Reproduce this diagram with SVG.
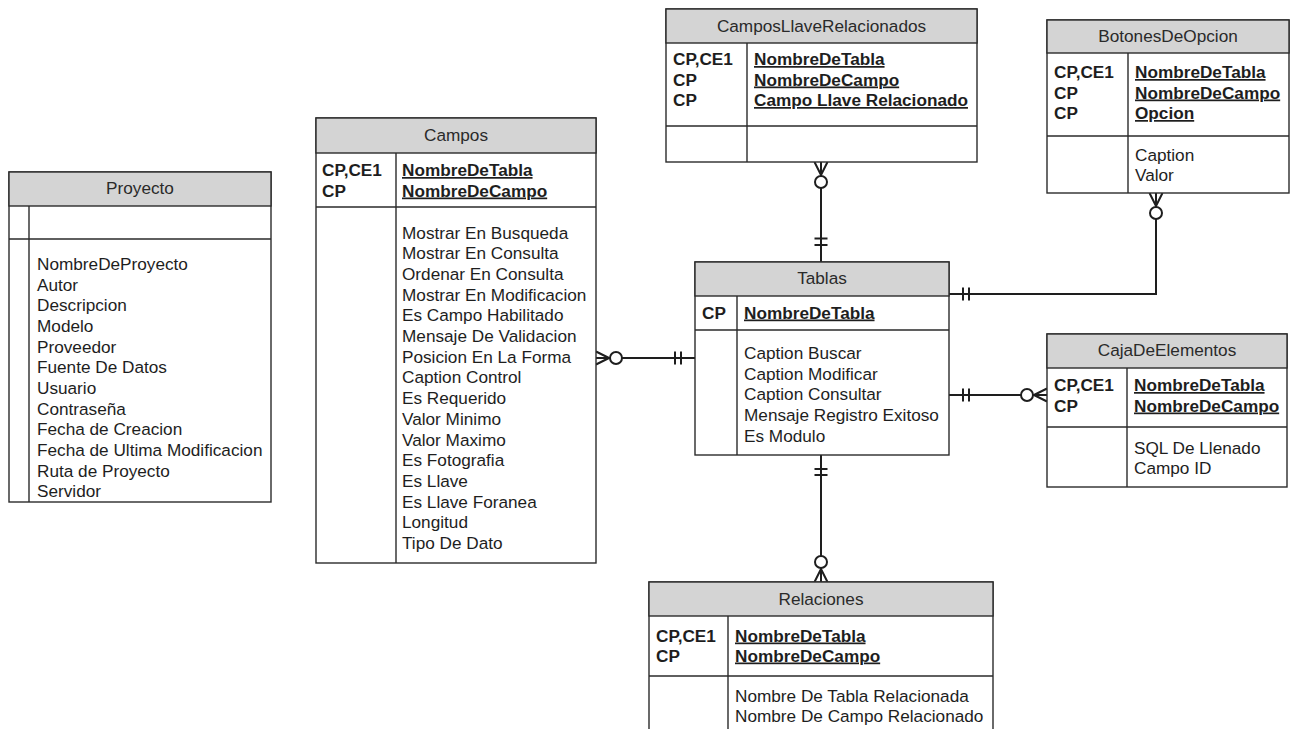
<svg xmlns="http://www.w3.org/2000/svg" width="1292" height="729" viewBox="0 0 1292 729">
  <style>
    .box { fill: #ffffff; stroke: #2b2b2b; stroke-width: 1.4; }
    .hdr { fill: #d4d4d4; stroke: #2b2b2b; stroke-width: 1.4; }
    .sep { stroke: #2b2b2b; stroke-width: 1.4; fill: none; }
    text { font-family: "Liberation Sans", Arial, sans-serif; font-size: 17.2px; fill: #1e1e1e; }
    .title { text-anchor: middle; fill: #2a2a2a; }
    .key { font-weight: bold; }
    .pk { font-weight: bold; text-decoration: underline; }
    .link { fill: none; stroke: #1e1e1e; stroke-width: 2; }
    .mk { fill: none; stroke: #1e1e1e; stroke-width: 2; }
  </style>
  <defs>
    <!-- exactly one: two bars near the parent table -->
    <marker id="one" markerUnits="userSpaceOnUse" viewBox="-30 -10 40 20" refX="0" refY="0" markerWidth="40" markerHeight="20" orient="auto-start-reverse" overflow="visible">
      <path class="mk" d="M-14,-6.5 V6.5 M-20,-6.5 V6.5"/>
    </marker>
    <!-- same, with the bars set further out -->
    <marker id="one-far" markerUnits="userSpaceOnUse" viewBox="-30 -10 40 20" refX="0" refY="0" markerWidth="40" markerHeight="20" orient="auto-start-reverse" overflow="visible">
      <path class="mk" d="M-17,-6.5 V6.5 M-23.5,-6.5 V6.5"/>
    </marker>
    <!-- zero or many: circle plus crow's foot at the child table -->
    <marker id="many" markerUnits="userSpaceOnUse" viewBox="-30 -10 40 20" refX="0" refY="0" markerWidth="40" markerHeight="20" orient="auto" overflow="visible">
      <path class="mk" d="M-13,0 L0,-6.5 M-13,0 L0,0 M-13,0 L0,6.5"/>
      <circle cx="-20" cy="0" r="6" fill="#ffffff" stroke="#1e1e1e" stroke-width="2"/>
    </marker>
  </defs>

  <g id="connectors">
    <path class="link" d="M821,262 V162" marker-start="url(#one-far)" marker-end="url(#many)"/>
    <path class="link" d="M949,294 H1156 V193" marker-start="url(#one)" marker-end="url(#many)"/>
    <path class="link" d="M949,395 H1047" marker-start="url(#one)" marker-end="url(#many)"/>
    <path class="link" d="M695,358 H596" marker-start="url(#one)" marker-end="url(#many)"/>
    <path class="link" d="M821,455 V582" marker-start="url(#one)" marker-end="url(#many)"/>
  </g>

  <!-- Proyecto -->
  <g id="proyecto">
    <rect class="box" x="9" y="172" width="262" height="330"/>
    <rect class="hdr" x="9" y="172" width="262" height="34"/>
    <path class="sep" d="M9,239 H271 M29,206 V502"/>
    <text class="title" x="140" y="194">Proyecto</text>
    <text x="37" y="270">NombreDeProyecto</text>
    <text x="37" y="290.7">Autor</text>
    <text x="37" y="311.3">Descripcion</text>
    <text x="37" y="332">Modelo</text>
    <text x="37" y="352.6">Proveedor</text>
    <text x="37" y="373.3">Fuente De Datos</text>
    <text x="37" y="394">Usuario</text>
    <text x="37" y="414.6">Contraseña</text>
    <text x="37" y="435.3">Fecha de Creacion</text>
    <text x="37" y="456">Fecha de Ultima Modificacion</text>
    <text x="37" y="476.6">Ruta de Proyecto</text>
    <text x="37" y="497.3">Servidor</text>
  </g>

  <!-- Campos -->
  <g id="campos">
    <rect class="box" x="316" y="118" width="280" height="445"/>
    <rect class="hdr" x="316" y="118" width="280" height="35"/>
    <path class="sep" d="M316,207 H596 M396,153 V563"/>
    <text class="title" x="456" y="141">Campos</text>
    <text class="key" x="322" y="176">CP,CE1</text>
    <text class="key" x="322" y="196.5">CP</text>
    <text class="pk" x="402" y="176">NombreDeTabla</text>
    <text class="pk" x="402" y="196.5">NombreDeCampo</text>
    <text x="402" y="238.5">Mostrar En Busqueda</text>
    <text x="402" y="259.2">Mostrar En Consulta</text>
    <text x="402" y="279.9">Ordenar En Consulta</text>
    <text x="402" y="300.6">Mostrar En Modificacion</text>
    <text x="402" y="321.3">Es Campo Habilitado</text>
    <text x="402" y="342">Mensaje De Validacion</text>
    <text x="402" y="362.7">Posicion En La Forma</text>
    <text x="402" y="383.4">Caption Control</text>
    <text x="402" y="404.1">Es Requerido</text>
    <text x="402" y="424.8">Valor Minimo</text>
    <text x="402" y="445.5">Valor Maximo</text>
    <text x="402" y="466.2">Es Fotografia</text>
    <text x="402" y="486.9">Es Llave</text>
    <text x="402" y="507.6">Es Llave Foranea</text>
    <text x="402" y="528.3">Longitud</text>
    <text x="402" y="549">Tipo De Dato</text>
  </g>

  <!-- CamposLlaveRelacionados -->
  <g id="campos-llave-relacionados">
    <rect class="box" x="666" y="9" width="311" height="153"/>
    <rect class="hdr" x="666" y="9" width="311" height="34"/>
    <path class="sep" d="M666,126 H977 M747,43 V162"/>
    <text class="title" x="821.5" y="31.5">CamposLlaveRelacionados</text>
    <text class="key" x="673" y="65">CP,CE1</text>
    <text class="key" x="673" y="85.5">CP</text>
    <text class="key" x="673" y="106">CP</text>
    <text class="pk" x="754" y="65">NombreDeTabla</text>
    <text class="pk" x="754" y="85.5">NombreDeCampo</text>
    <text class="pk" x="754" y="106">Campo Llave Relacionado</text>
  </g>

  <!-- BotonesDeOpcion -->
  <g id="botones-de-opcion">
    <rect class="box" x="1047" y="20" width="242" height="173"/>
    <rect class="hdr" x="1047" y="20" width="242" height="33"/>
    <path class="sep" d="M1047,136 H1289 M1128,53 V193"/>
    <text class="title" x="1168" y="42">BotonesDeOpcion</text>
    <text class="key" x="1054" y="78">CP,CE1</text>
    <text class="key" x="1054" y="98.5">CP</text>
    <text class="key" x="1054" y="119">CP</text>
    <text class="pk" x="1135" y="78">NombreDeTabla</text>
    <text class="pk" x="1135" y="98.5">NombreDeCampo</text>
    <text class="pk" x="1135" y="119">Opcion</text>
    <text x="1135" y="161">Caption</text>
    <text x="1135" y="181">Valor</text>
  </g>

  <!-- Tablas -->
  <g id="tablas">
    <rect class="box" x="695" y="262" width="254" height="193"/>
    <rect class="hdr" x="695" y="262" width="254" height="34"/>
    <path class="sep" d="M695,330 H949 M737,296 V455"/>
    <text class="title" x="822" y="284">Tablas</text>
    <text class="key" x="702" y="318.5">CP</text>
    <text class="pk" x="744" y="318.5">NombreDeTabla</text>
    <text x="744" y="359">Caption Buscar</text>
    <text x="744" y="379.7">Caption Modificar</text>
    <text x="744" y="400.4">Caption Consultar</text>
    <text x="744" y="421.1">Mensaje Registro Exitoso</text>
    <text x="744" y="441.8">Es Modulo</text>
  </g>

  <!-- CajaDeElementos -->
  <g id="caja-de-elementos">
    <rect class="box" x="1047" y="334" width="240" height="153"/>
    <rect class="hdr" x="1047" y="334" width="240" height="34"/>
    <path class="sep" d="M1047,427 H1287 M1127,368 V487"/>
    <text class="title" x="1167" y="356">CajaDeElementos</text>
    <text class="key" x="1054" y="391">CP,CE1</text>
    <text class="key" x="1054" y="411.5">CP</text>
    <text class="pk" x="1134" y="391">NombreDeTabla</text>
    <text class="pk" x="1134" y="411.5">NombreDeCampo</text>
    <text x="1134" y="453.5">SQL De Llenado</text>
    <text x="1134" y="474">Campo ID</text>
  </g>

  <!-- Relaciones (continues below the bottom edge) -->
  <g id="relaciones">
    <rect class="box" x="649" y="582" width="344" height="170"/>
    <rect class="hdr" x="649" y="582" width="344" height="34"/>
    <path class="sep" d="M649,676 H993 M728,616 V752"/>
    <text class="title" x="821" y="604.5">Relaciones</text>
    <text class="key" x="656" y="641.5">CP,CE1</text>
    <text class="key" x="656" y="661.5">CP</text>
    <text class="pk" x="735" y="641.5">NombreDeTabla</text>
    <text class="pk" x="735" y="661.5">NombreDeCampo</text>
    <text x="735" y="702">Nombre De Tabla Relacionada</text>
    <text x="735" y="722">Nombre De Campo Relacionado</text>
  </g>
</svg>
